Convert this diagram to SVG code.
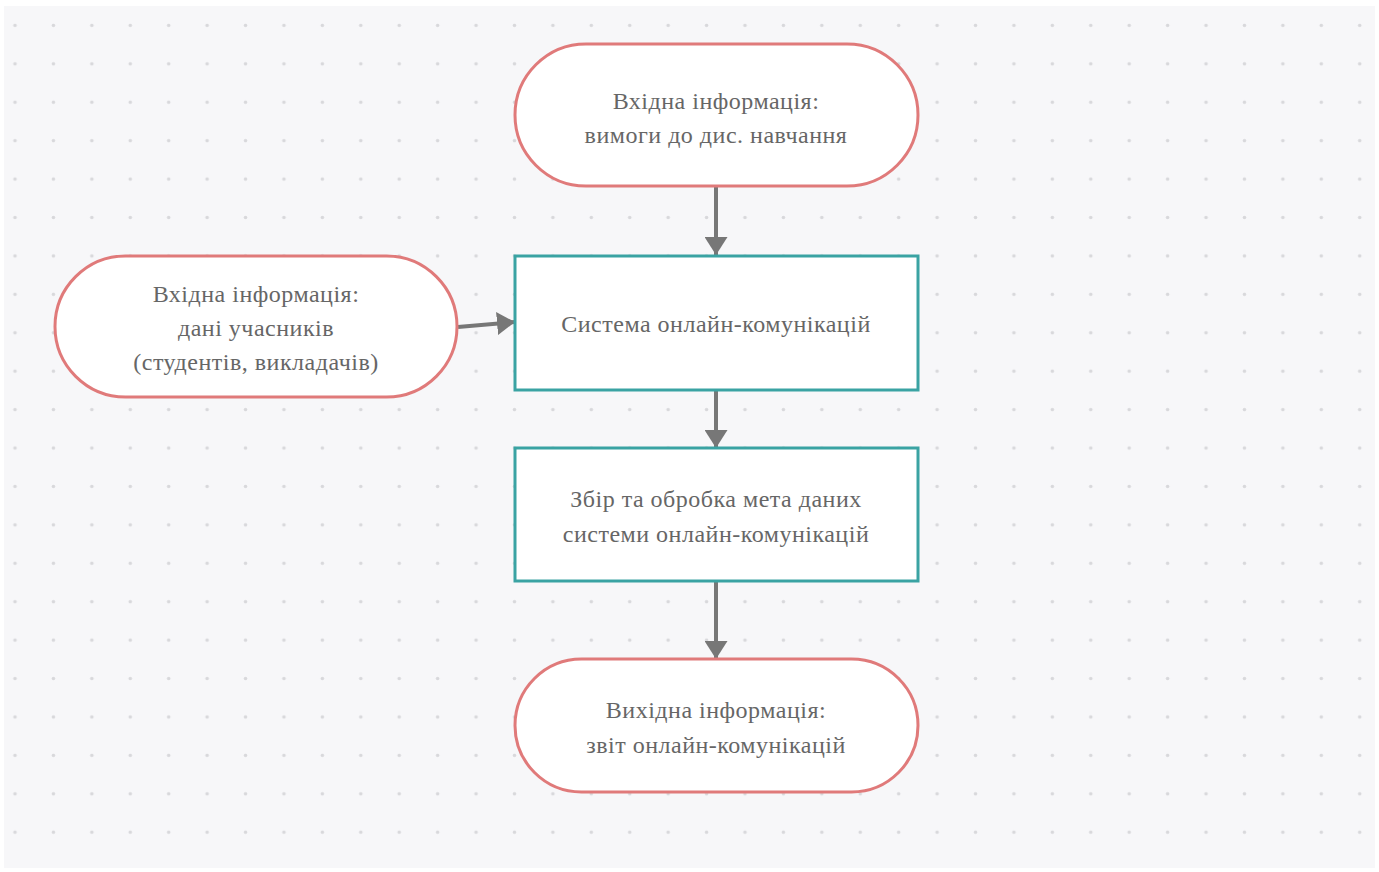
<svg xmlns="http://www.w3.org/2000/svg" width="1379" height="872" viewBox="0 0 1379 872">
  <defs>
    <pattern id="dots" x="-4.2" y="6.2" width="38.42" height="38.42" patternUnits="userSpaceOnUse">
      <circle cx="19.21" cy="19.21" r="1.8" fill="#d8d8db"/>
    </pattern>
    <marker id="arrow" viewBox="0 0 18 23" refX="18" refY="11.5" markerWidth="4.5" markerHeight="5.75" markerUnits="strokeWidth" orient="auto">
      <path d="M0,0 L18,11.5 L0,23 Z" fill="#777777"/>
    </marker>
  </defs>
  <style>
    .terminal { fill: #ffffff; stroke: #e07a7a; stroke-width: 3; }
    .process { fill: #ffffff; stroke: #3aa3a3; stroke-width: 3; }
    .label { font-family: "Liberation Serif", "DejaVu Serif", serif; font-size: 24px; letter-spacing: 0.5px; fill: #666666; text-anchor: middle; }
    .edge { stroke: #777777; stroke-width: 4; fill: none; marker-end: url(#arrow); }
  </style>

  <!-- canvas -->
  <rect x="0" y="0" width="1379" height="872" fill="#ffffff"/>
  <rect x="4" y="6" width="1371" height="862" fill="#f7f7f9"/>
  <rect x="4" y="6" width="1371" height="862" fill="url(#dots)"/>

  <!-- connectors -->
  <g id="connectors">
    <line class="edge" x1="716" y1="187" x2="716" y2="255"/>
    <line class="edge" x1="458" y1="327" x2="515" y2="322"/>
    <line class="edge" x1="716" y1="390" x2="716" y2="448"/>
    <line class="edge" x1="716" y1="581" x2="716" y2="659"/>
  </g>

  <g id="input-requirements">
    <rect class="terminal" x="515" y="44" width="403" height="142" rx="71" ry="71"/>
    <text class="label" x="716" y="109">Вхідна інформація:</text>
    <text class="label" x="716" y="143">вимоги до дис. навчання</text>
  </g>

  <g id="input-participants">
    <rect class="terminal" x="55" y="256" width="402" height="141" rx="70.5" ry="70.5"/>
    <text class="label" x="256" y="302">Вхідна інформація:</text>
    <text class="label" x="256" y="336">дані учасників</text>
    <text class="label" x="256" y="370">(студентів, викладачів)</text>
  </g>

  <g id="communication-system">
    <rect class="process" x="515" y="256" width="403" height="134"/>
    <text class="label" x="716" y="332">Система онлайн-комунікацій</text>
  </g>

  <g id="metadata-processing">
    <rect class="process" x="515" y="448" width="403" height="133"/>
    <text class="label" x="716" y="507">Збір та обробка мета даних</text>
    <text class="label" x="716" y="542">системи онлайн-комунікацій</text>
  </g>

  <g id="output-report">
    <rect class="terminal" x="515" y="659" width="403" height="133" rx="66.5" ry="66.5"/>
    <text class="label" x="716" y="718">Вихідна інформація:</text>
    <text class="label" x="716" y="753">звіт онлайн-комунікацій</text>
  </g>
</svg>
